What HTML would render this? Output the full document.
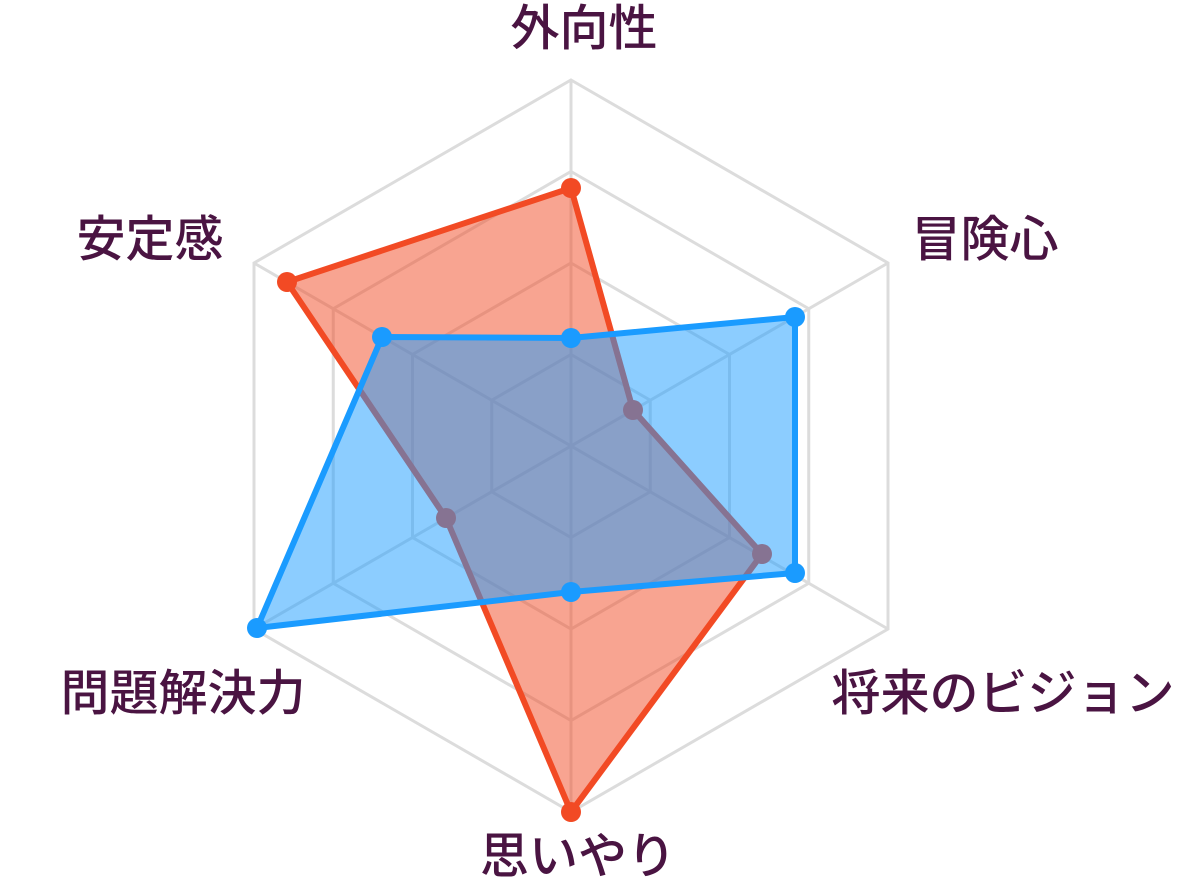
<!DOCTYPE html>
<html><head><meta charset="utf-8"><style>
html,body{margin:0;padding:0;background:#fff;}
svg{display:block;}
text{font-family:"Liberation Sans","Noto Sans CJK JP",sans-serif;font-size:49px;font-weight:500;fill:#4a1442;text-anchor:middle;}
</style></head><body>
<svg width="1192" height="891" viewBox="0 0 1192 891">
<g fill="none" stroke="#dcdcdc" stroke-width="3">
<polygon points="571,80 888,263 888,629 571,812 254,629 254,263"/>
<polygon points="571,171.5 808.75,308.75 808.75,583.25 571,720.5 333.25,583.25 333.25,308.75"/>
<polygon points="571,263 729.5,354.5 729.5,537.5 571,629 412.5,537.5 412.5,354.5"/>
<polygon points="571,354.5 650.25,400.25 650.25,491.75 571,537.5 491.75,491.75 491.75,400.25"/>
<line x1="571" y1="80" x2="571" y2="812"/>
<line x1="888" y1="263" x2="254" y2="629"/>
<line x1="888" y1="629" x2="254" y2="263"/>
</g>
<g>
<polygon points="571,188 633,410 762,554 571,812 446,518 287,282" fill="rgba(242,74,36,0.5)" stroke="#f24a24" stroke-width="6" stroke-linejoin="round"/>
<g fill="#f24a24">
<circle cx="571" cy="188" r="10"/><circle cx="633" cy="410" r="10"/><circle cx="762" cy="554" r="10"/>
<circle cx="571" cy="812" r="10"/><circle cx="446" cy="518" r="10"/><circle cx="287" cy="282" r="10"/>
</g>
</g>
<g>
<polygon points="571,338 795,317 795,573 571,592 257,628 382,337" fill="rgba(26,155,255,0.5)" stroke="#1a9bff" stroke-width="6" stroke-linejoin="round"/>
<g fill="#1a9bff">
<circle cx="571" cy="338" r="10"/><circle cx="795" cy="317" r="10"/><circle cx="795" cy="573" r="10"/>
<circle cx="571" cy="592" r="10"/><circle cx="257" cy="628" r="10"/><circle cx="382" cy="337" r="10"/>
</g>
</g>
<text x="584" y="45">外向性</text>
<text x="985" y="256">冒険心</text>
<text x="1003" y="710">将来のビジョン</text>
<text x="578" y="873">思いやり</text>
<text x="183" y="710">問題解決力</text>
<text x="150" y="256">安定感</text>
</svg>
</body></html>
